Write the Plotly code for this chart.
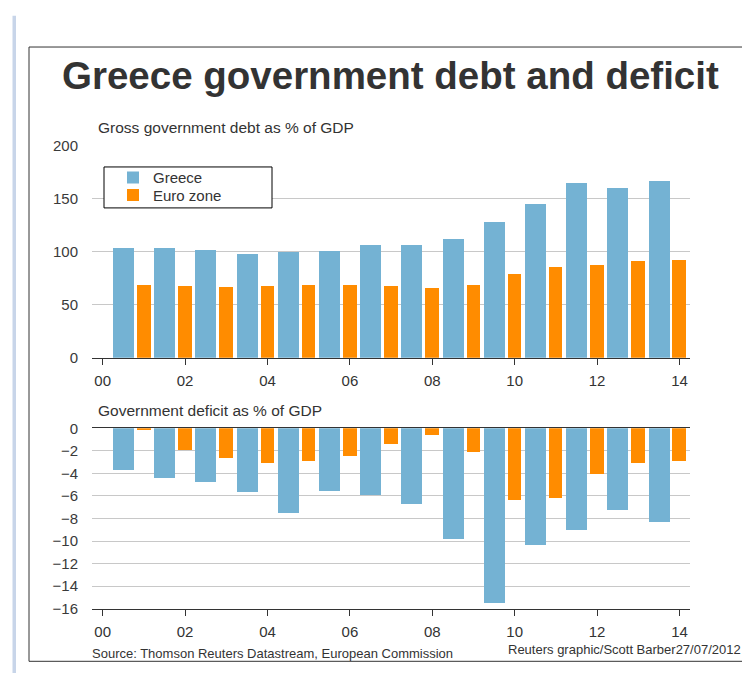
import plotly.graph_objects as go

W, H = 742, 681

# ---------------- data ----------------
years = list(range(2000, 2014))
greece_debt = [104.3, 104.3, 101.8, 98.5, 100.0, 101.0, 106.4, 106.4, 112.6, 128.8, 145.0, 164.7, 160.4, 167.2]
euro_debt = [69.3, 68.4, 67.2, 68.4, 69.3, 69.3, 68.4, 66.0, 69.3, 79.8, 85.6, 87.7, 91.4, 92.6]
greece_deficit = [-3.74, -4.40, -4.83, -5.72, -7.50, -5.60, -5.95, -6.70, -9.86, -15.55, -10.40, -9.08, -7.24, -8.33]
euro_deficit = [-0.1, -1.95, -2.70, -3.10, -2.93, -2.47, -1.38, -0.60, -2.16, -6.40, -6.18, -4.08, -3.10, -2.90]
tick_years = [2000, 2002, 2004, 2006, 2008, 2010, 2012, 2014]
tick_text = ["00", "02", "04", "06", "08", "10", "12", "14"]
debt_ticks = [0, 50, 100, 150, 200]
deficit_ticks = [0, -2, -4, -6, -8, -10, -12, -14, -16]

BLUE = "#74b2d3"
ORANGE = "#ff8c00"
FONT = "Liberation Sans, Arial, sans-serif"
TXT = "#333333"


def px(x):
    return x / W


def py(y):
    return 1 - y / H


fig = go.Figure()

fig.add_trace(go.Bar(x=years, y=greece_debt, name="Greece", marker_color=BLUE,
                     marker_line_width=0, offset=0.25, width=0.51,
                     xaxis="x", yaxis="y", legend="legend", hoverinfo="x+y"))
fig.add_trace(go.Bar(x=years, y=euro_debt, name="Euro zone", marker_color=ORANGE,
                     marker_line_width=0, offset=0.83, width=0.33,
                     xaxis="x", yaxis="y", legend="legend2", hoverinfo="x+y"))
fig.add_trace(go.Bar(x=years, y=greece_deficit, name="Greece", marker_color=BLUE,
                     marker_line_width=0, offset=0.25, width=0.51,
                     xaxis="x2", yaxis="y2", showlegend=False, hoverinfo="x+y"))
fig.add_trace(go.Bar(x=years, y=euro_deficit, name="Euro zone", marker_color=ORANGE,
                     marker_line_width=0, offset=0.83, width=0.33,
                     xaxis="x2", yaxis="y2", showlegend=False, hoverinfo="x+y"))

xdom = [px(92), px(690)]
xrange = [1999.74, 2014.255]

xcommon = dict(domain=xdom, range=xrange, tickvals=tick_years, ticktext=tick_text,
               showline=True, linecolor=TXT, linewidth=1, ticks="outside", ticklen=6,
               tickcolor=TXT, tickwidth=1, showgrid=False, zeroline=False,
               tickfont=dict(family=FONT, size=15, color=TXT), ticklabelstandoff=3,
               fixedrange=True)
ycommon = dict(showgrid=True, gridcolor="#c8c8c8", gridwidth=1, ticks="",
               showline=False, tickfont=dict(family=FONT, size=15, color="#3a3a3a"),
               ticklabelstandoff=13, fixedrange=True)

fig.update_layout(
    width=W, height=H,
    margin=dict(l=0, r=0, t=0, b=0),
    paper_bgcolor="white", plot_bgcolor="white",
    barmode="overlay", bargap=0,
    font=dict(family=FONT, color=TXT),
    xaxis=dict(anchor="y", **xcommon),
    yaxis=dict(domain=[py(357.7), py(140)], range=[0, 200], tickvals=debt_ticks,
               zeroline=False, anchor="x", **ycommon),
    xaxis2=dict(anchor="y2", mirror=True, **xcommon),
    yaxis2=dict(domain=[py(615), py(430)], range=[-16, 0], tickvals=deficit_ticks,
                zeroline=False, anchor="x2", **ycommon),
    legend=dict(x=px(113), y=py(173), xanchor="left", yanchor="middle",
                bgcolor="rgba(0,0,0,0)", borderwidth=0,
                font=dict(family=FONT, size=15, color=TXT)),
    legend2=dict(x=px(113), y=py(191), xanchor="left", yanchor="middle",
                 bgcolor="rgba(0,0,0,0)", borderwidth=0,
                 font=dict(family=FONT, size=15, color=TXT)),
    showlegend=True,
)

shapes = [
    # left page strip
    dict(type="rect", xref="paper", yref="paper", x0=px(12.5), x1=px(16), y0=py(681), y1=py(7),
         fillcolor="#c8d5e9", line_width=0, layer="below"),
    # frame
    dict(type="line", xref="paper", yref="paper", x0=px(29), x1=px(29), y0=py(39), y1=py(669),
         line=dict(color="#333333", width=1)),
    dict(type="line", xref="paper", yref="paper", x0=px(29), x1=1.01, y0=py(39), y1=py(39),
         line=dict(color="#333333", width=1)),
    dict(type="line", xref="paper", yref="paper", x0=px(29), x1=1.01, y0=py(669), y1=py(669),
         line=dict(color="#333333", width=1)),
    # legend box
    dict(type="rect", xref="paper", yref="paper", x0=px(104), x1=px(272), y0=py(204), y1=py(162),
         fillcolor="white", line=dict(color="black", width=1), layer="above"),
]
fig.update_layout(shapes=shapes)

annotations = [
    dict(text="<b>Greece government debt and deficit</b>", x=px(390.5), y=py(68.5),
         xanchor="center", yanchor="middle", font=dict(family=FONT, size=38.5, color="#333333")),
    dict(text="Gross government debt as % of GDP", x=px(96), y=py(122),
         xanchor="left", yanchor="middle", font=dict(family=FONT, size=15.5, color=TXT)),
    dict(text="Government deficit as % of GDP", x=px(96), y=py(412),
         xanchor="left", yanchor="middle", font=dict(family=FONT, size=15.5, color=TXT)),
    dict(text="Source: Thomson Reuters Datastream, European Commission", x=px(90), y=py(661),
         xanchor="left", yanchor="middle", font=dict(family=FONT, size=13, color=TXT)),
    dict(text="Reuters graphic/Scott Barber27/07/2012", x=px(506), y=py(657),
         xanchor="left", yanchor="middle", font=dict(family=FONT, size=13, color=TXT)),
]
for a in annotations:
    a.update(xref="paper", yref="paper", showarrow=False)
fig.update_layout(annotations=annotations)

post = ("document.documentElement.style.margin='0';"
        "document.documentElement.style.padding='0';"
        "document.documentElement.style.overflow='hidden';"
        "document.body.style.margin='0';"
        "document.body.style.padding='0';"
        "document.body.style.overflow='hidden';"
        "var d=document.getElementById('{plot_id}');"
        "d.style.position='fixed';d.style.left='0px';d.style.top='0px';")

fig.write_html("out.html", config={"displayModeBar": False}, post_script=post)
